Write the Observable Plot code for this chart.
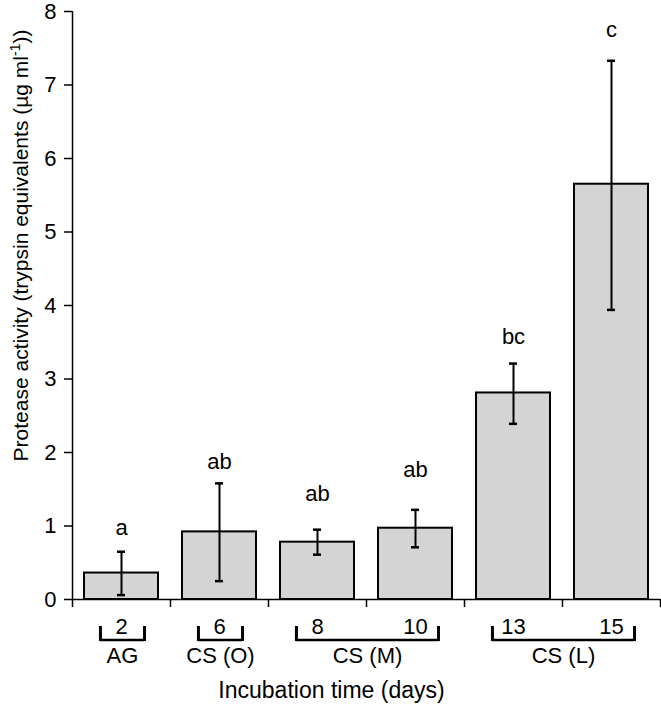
<!DOCTYPE html>
<html><head><meta charset="utf-8">
<script src="https://cdn.jsdelivr.net/npm/d3@7"></script>
<script src="https://cdn.jsdelivr.net/npm/@observablehq/plot@0.6"></script>
<style>html,body{margin:0;padding:0;background:#fff}</style>
</head><body><div id="chart"></div>
<script>
const days = ["2", "6", "8", "10", "13", "15"];
const activity = [0.36, 0.92, 0.78, 0.97, 2.81, 5.65];
const errLow = [0.06, 0.25, 0.61, 0.71, 2.39, 3.94];
const errHigh = [0.65, 1.58, 0.95, 1.22, 3.21, 7.33];
const letters = ["a", "ab", "ab", "ab", "bc", "c"];
const letterY = [0.88, 1.78, 1.34, 1.66, 3.48, 7.65];
const groupLabels = ["AG", "CS (O)", "CS (M)", "CS (L)"];
const groupFirst = [0, 1, 2, 4];
const groupLast = [0, 1, 3, 5];
const yTicks = [0, 1, 2, 3, 4, 5, 6, 7, 8];
const yTitle = "Protease activity (trypsin equivalents (µg ml-1))";
const xTitle = "Incubation time (days)";

const bars = days.map((d, i) => ({i, day: d, value: activity[i], lo: errLow[i], hi: errHigh[i], letter: letters[i], ly: letterY[i]}));
const groups = groupLabels.map((g, k) => ({label: g, a: groupFirst[k] + 0.285, b: groupLast[k] + 0.735}));
const ends = groups.flatMap(g => [g.a, g.b]);
const font = "Liberation Sans, Arial, Helvetica, sans-serif";
const fs = 22;

const chart = Plot.plot({
  width: 661,
  height: 708,
  marginTop: 11,
  marginBottom: 109,
  marginLeft: 72,
  marginRight: 1,
  style: {fontFamily: font, fontSize: fs + "px", color: "black", background: "white"},
  x: {type: "linear", domain: [0, days.length], axis: null},
  y: {domain: [0, 8], axis: null},
  marks: [
    Plot.rectY(bars, {x1: d => d.i, x2: d => d.i + 1, y: "value", insetLeft: 12, insetRight: 12, fill: "#d4d4d4", stroke: "black", strokeWidth: 2}),
    Plot.ruleX(bars, {x: d => d.i + 0.5, y1: "lo", y2: "hi", stroke: "black", strokeWidth: 2}),
    Plot.ruleY(bars, {x1: d => d.i + 0.5, x2: d => d.i + 0.5, y: "hi", insetLeft: -4, insetRight: -4, stroke: "black", strokeWidth: 2.5}),
    Plot.ruleY(bars, {x1: d => d.i + 0.5, x2: d => d.i + 0.5, y: "lo", insetLeft: -4, insetRight: -4, stroke: "black", strokeWidth: 2.5}),
    Plot.text(bars, {x: d => d.i + 0.5, y: "ly", text: "letter", lineAnchor: "bottom", fontSize: fs, fill: "black"}),
    Plot.ruleY([0], {stroke: "black", strokeWidth: 1.5}),
    Plot.ruleX([0], {stroke: "black", strokeWidth: 1.5}),
    Plot.axisY({ticks: yTicks, tickSize: 8, tickPadding: 8, fontSize: fs, label: null, strokeWidth: 1.5}),
    Plot.axisX({ticks: d3.range(days.length + 1), tickFormat: () => "", tickSize: 8, label: null, strokeWidth: 1.5}),
    Plot.text(bars, {x: d => d.i + 0.5, y: 0, text: "day", dy: 34, lineAnchor: "bottom", fontSize: fs, fill: "black"}),
    Plot.ruleY(groups, {x1: "a", x2: "b", y: 0, dy: 40.5, stroke: "black", strokeWidth: 2.5}),
    Plot.ruleX(ends, {x: d => d, y1: 0, y2: 0, insetTop: 42, insetBottom: -27, stroke: "black", strokeWidth: 3}),
    Plot.text(groups, {x: d => (d.a + d.b) / 2, y: 0, text: "label", dy: 63, lineAnchor: "bottom", fontSize: fs, fill: "black"}),
    Plot.text([xTitle], {frameAnchor: "bottom", text: d => d, textAnchor: "middle", dx: -35, dy: 98, lineAnchor: "bottom", fontSize: 23, fill: "black"}),
    Plot.text([yTitle], {frameAnchor: "left", text: d => d, rotate: -90, textAnchor: "middle", dx: -51, dy: -60, lineAnchor: "middle", fontSize: 21, fill: "black"})
  ]
});
document.getElementById("chart").appendChild(chart);

// superscript for ml-1
d3.select(chart).selectAll("text").each(function () {
  if (this.textContent === yTitle) {
    const t = d3.select(this);
    t.text(null);
    t.append("tspan").text("Protease activity (trypsin equivalents (µg ml");
    t.append("tspan").attr("baseline-shift", "super").attr("font-size", "14px").text("-1");
    t.append("tspan").text("))");
  }
});
</script>
</body></html>
